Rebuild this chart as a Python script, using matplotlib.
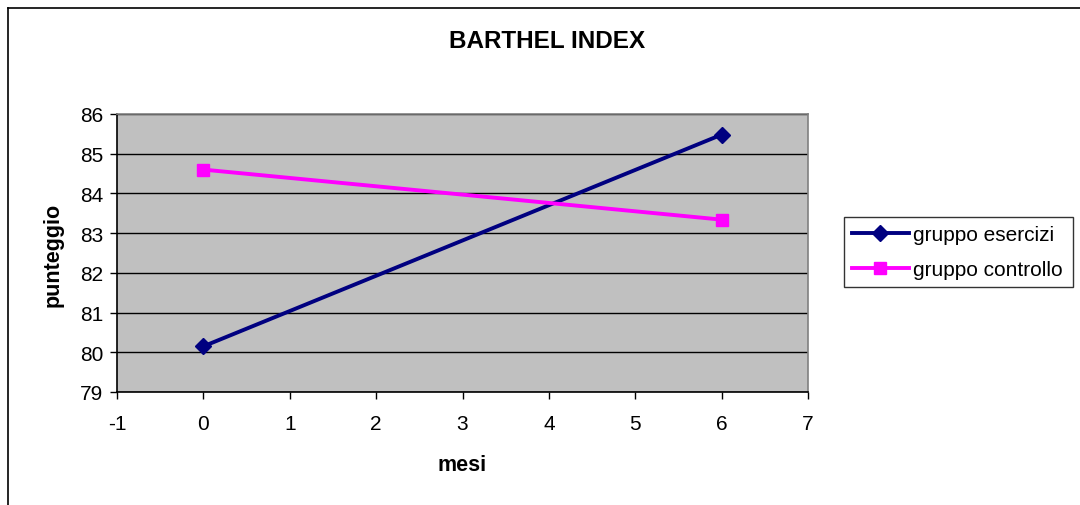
import matplotlib
matplotlib.use("Agg")
import matplotlib.pyplot as plt
from matplotlib.lines import Line2D

plt.rcParams['font.family'] = ['Liberation Sans', 'DejaVu Sans']

months = [0, 6]
esercizi = [80.15, 85.48]
controllo = [84.6, 83.34]
series_labels = ["gruppo esercizi", "gruppo controllo"]
title = "BARTHEL INDEX"
xlabel = "mesi"
ylabel = "punteggio"
xticks = [-1, 0, 1, 2, 3, 4, 5, 6, 7]
yticks = [79, 80, 81, 82, 83, 84, 85, 86]

W, H = 1080, 506
fig = plt.figure(figsize=(W / 100, H / 100), dpi=100)
fig.patch.set_facecolor("white")

# chart frame (top and left visible)
fig.add_artist(Line2D([8 / W, 8 / W], [0, 1 - 9 / H], transform=fig.transFigure, color="black", lw=1.2))
fig.add_artist(Line2D([8 / W, 1], [1 - 9 / H, 1 - 9 / H], transform=fig.transFigure, color="black", lw=1.2))

left, right, top, bottom = 117, 808, 115, 393
ax = fig.add_axes([left / W, 1 - bottom / H, (right - left) / W, (bottom - top) / H])
ax.set_facecolor("#c0c0c0")
ax.set_xlim(-1, 7)
ax.set_ylim(79, 86)
ax.set_xticks(xticks)
ax.set_yticks(yticks)
ax.set_xticklabels([str(v) for v in xticks], fontsize=15)
ax.set_yticklabels([str(v) for v in yticks], fontsize=15)
ax.tick_params(axis='x', direction='out', length=5, width=1, color="black", pad=11)
ax.tick_params(axis='y', direction='out', length=5, width=1, color="black", pad=5)
ax.grid(axis='y', color="black", lw=1)
ax.set_axisbelow(True)
for s in ["top", "right"]:
    ax.spines[s].set_color("#808080")
    ax.spines[s].set_linewidth(1.2)
for s in ["left", "bottom"]:
    ax.spines[s].set_color("black")
    ax.spines[s].set_linewidth(1.2)

ax.plot(months, esercizi, color="#000080", lw=2.8, marker="D", markersize=8,
        markerfacecolor="#000080", markeredgecolor="#000080", label=series_labels[0], clip_on=False)
ax.plot(months, controllo, color="#ff00ff", lw=2.8, marker="s", markersize=9,
        markerfacecolor="#ff00ff", markeredgecolor="#ff00ff", label=series_labels[1], clip_on=False)

fig.text(462 / W, 1 - 466 / H, xlabel, fontsize=15.5, fontweight="bold", ha="center", va="center")
fig.text(53 / W, 1 - 255 / H, ylabel, fontsize=15.5, fontweight="bold", ha="center", va="center",
         rotation=90)
fig.text(547 / W, 1 - 41 / H, title, fontsize=17.5, fontweight="bold", ha="center", va="center")

leg = ax.legend(loc="center left", bbox_to_anchor=(844 / W, 1 - 291 / H, (1073 - 844) / W, 76 / H),
                bbox_transform=fig.transFigure, mode="expand", frameon=True, fancybox=False,
                edgecolor="black", fontsize=15, handlelength=2.7, borderpad=0.4,
                labelspacing=0.75, handletextpad=0.2, borderaxespad=0)
leg.get_frame().set_linewidth(1.0)

fig.savefig("out.png", dpi=100)
